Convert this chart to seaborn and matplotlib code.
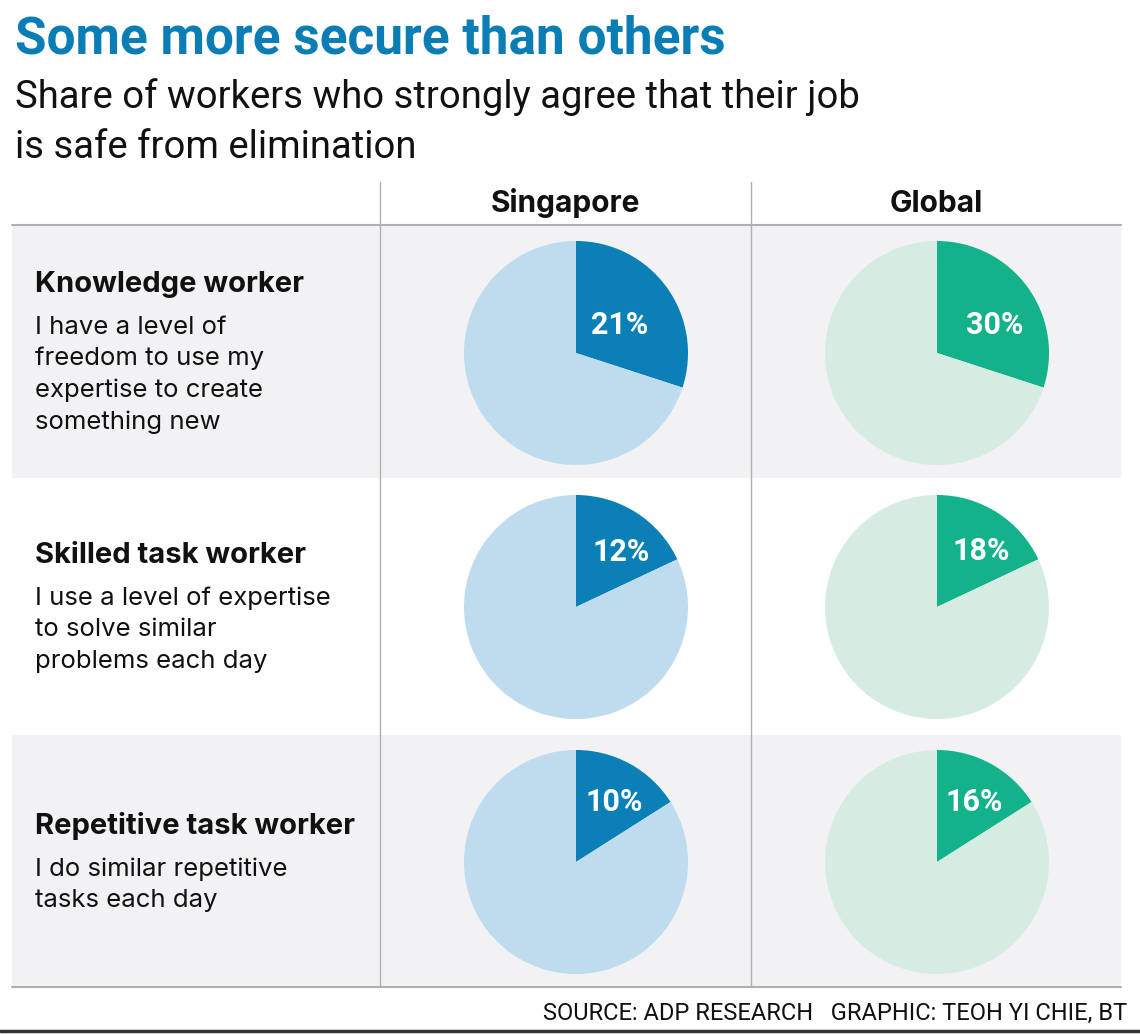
import matplotlib
matplotlib.use("Agg")
import matplotlib.pyplot as plt
import seaborn as sns
from matplotlib import font_manager
from matplotlib.patches import Rectangle

# data
regions = ["Singapore", "Global"]
worker_types = ["Knowledge worker", "Skilled task worker", "Repetitive task worker"]
descriptions = [
    ["I have a level of", "freedom to use my", "expertise to create", "something new"],
    ["I use a level of expertise", "to solve similar", "problems each day"],
    ["I do similar repetitive", "tasks each day"],
]
singapore_pct = [21, 12, 10]
global_pct = [30, 18, 16]
# slice sizes as drawn in the original graphic (Singapore pies reuse the global angles)
singapore_drawn = [30, 18, 16]
global_drawn = [30, 18, 16]

title = "Some more secure than others"
subtitle = ["Share of workers who strongly agree that their job", "is safe from elimination"]
source = "SOURCE: ADP RESEARCH   GRAPHIC: TEOH YI CHIE, BT"

# colours
dark = {"Singapore": "#0a80b6", "Global": "#13b28b"}
light = {"Singapore": "#bedcee", "Global": "#d6ece3"}
title_color = "#0a7db5"
row_bg = "#f2f2f4"
rule = "#b0b0b0"

sns.set_theme(style="white")
installed = {f.name for f in font_manager.fontManager.ttflist}
narrow = "Liberation Sans Narrow" if "Liberation Sans Narrow" in installed else "Roboto"
body = "Inter" if "Inter" in installed else "Noto Sans"
plt.rcParams["font.family"] = [body, "DejaVu Sans"]

W, H = 1140, 1034
fig = plt.figure(figsize=(W / 100, H / 100), dpi=100)
bg = fig.add_axes([0, 0, 1, 1])
bg.set_xlim(0, W)
bg.set_ylim(H, 0)
bg.axis("off")

# table layout (pixels)
left, right = 12, 1121
col_x = [380, 751, right]
head_top, head_line = 182, 225
row_edges = [226, 478, 735, 987]

for i in range(3):
    if i % 2 == 0:
        bg.add_patch(Rectangle((left, row_edges[i]), right - left,
                               row_edges[i + 1] - row_edges[i],
                               color=row_bg, lw=0, zorder=0))
bg.plot([left, right], [head_line, head_line], color=rule, lw=1.5)
bg.plot([left, right], [row_edges[-1], row_edges[-1]], color=rule, lw=1.5)
for x in col_x[:2]:
    bg.plot([x, x], [head_top, row_edges[-1]], color=rule, lw=1)
bg.plot([0, W], [1031, 1031], color="#333333", lw=2.5)

# titles
bg.text(15, 53, title, family=[narrow, "DejaVu Sans"], fontweight="bold",
        fontsize=37, color=title_color, va="baseline")
for k, line in enumerate(subtitle):
    bg.text(15, 108 + 50 * k, line, family=[narrow, "DejaVu Sans"],
            fontsize=27.5, color="#111111", va="baseline")

# column headers
for j, name in enumerate(regions):
    cx = (col_x[j] + col_x[j + 1]) / 2
    bg.text(cx, 212, name, fontsize=21.5, fontweight="bold", ha="center",
            va="baseline", color="#111111")

# row labels
title_base = [292, 563, 834]
desc_base = [334, 605, 876]
for i, wt in enumerate(worker_types):
    bg.text(35, title_base[i], wt, fontsize=21, fontweight="bold",
            va="baseline", color="#111111")
    for k, line in enumerate(descriptions[i]):
        bg.text(35, desc_base[i] + 31.5 * k, line, fontsize=18.5,
                va="baseline", color="#111111")

# pies
pie_cx = [576, 937]
pie_cy = [353, 607, 862]
radius = 112
# label offsets from pie centre (pixels, y down)
label_off = [[(44, -28), (58, -28)], [(45, -55), (44, -56)], [(38, -60), (37, -60)]]

for i in range(3):
    for j, name in enumerate(regions):
        if name == "Singapore":
            val, drawn = singapore_pct[i], singapore_drawn[i]
        else:
            val, drawn = global_pct[i], global_drawn[i]
        cx, cy = pie_cx[j], pie_cy[i]
        ax = fig.add_axes([(cx - radius) / W, 1 - (cy + radius) / H,
                           2 * radius / W, 2 * radius / H])
        ax.pie([drawn, 100 - drawn], startangle=90, counterclock=False,
               colors=[dark[name], light[name]], wedgeprops=dict(lw=0))
        ax.set_xlim(-1, 1)
        ax.set_ylim(-1, 1)
        ax.axis("off")
        dx, dy = label_off[i][j]
        ax.text(dx / radius, -dy / radius, f"{val}%", family=["Roboto", "DejaVu Sans"],
                fontsize=22, fontweight="bold", color="white",
                ha="center", va="center")

bg.text(1127, 1020, source, family=[narrow, "DejaVu Sans"], fontsize=17,
        ha="right", va="baseline", color="#111111")

fig.savefig("out.png", dpi=100)
